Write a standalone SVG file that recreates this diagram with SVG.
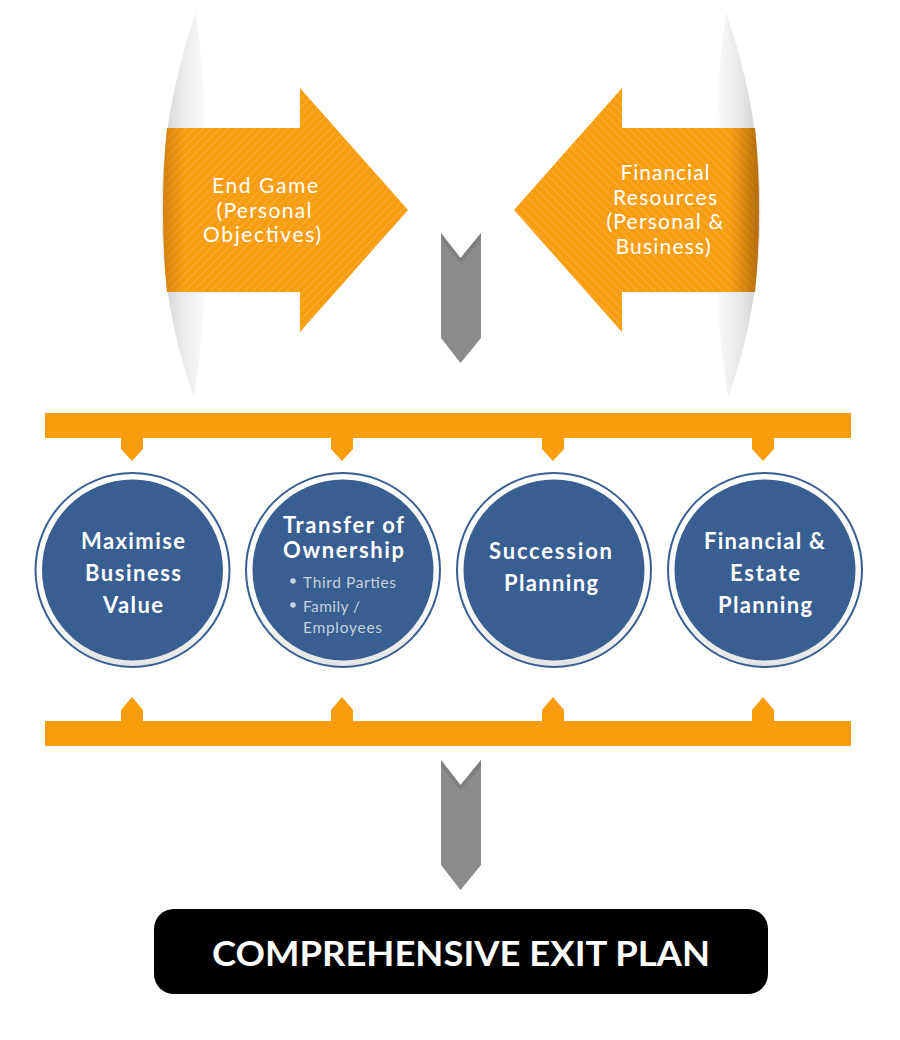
<svg xmlns="http://www.w3.org/2000/svg" width="900" height="1040" viewBox="0 0 900 1040">
<defs>
<style>
.bar{fill:#F99C0E}
.arrowtxt{font-family:Lato,"Liberation Sans",sans-serif;font-weight:400;font-size:21px;fill:#FFFFFF;text-anchor:middle}
.ctxt{font-family:Lato,"Liberation Sans",sans-serif;font-weight:700;font-size:22px;fill:#FFFFFF;text-anchor:middle}
.btxt{font-family:Lato,"Liberation Sans",sans-serif;font-weight:400;font-size:15.5px;fill:#C9D1DE}
.ring{fill:url(#ringGrad);stroke:#3A5E94;stroke-width:2}
.disc{fill:#385E92}
.grey{fill:#8B8B8B}
.notch{fill:#767676;opacity:0.55}
</style>
<pattern id="stripeL" width="6" height="6" patternUnits="userSpaceOnUse" patternTransform="rotate(-45)">
<rect width="6" height="1.2" fill="#FFFFFF" opacity="0.16"/>
</pattern>
<pattern id="stripeR" width="6" height="6" patternUnits="userSpaceOnUse" patternTransform="rotate(45)">
<rect width="6" height="1.2" fill="#FFFFFF" opacity="0.16"/>
</pattern>
<linearGradient id="lensL" gradientUnits="userSpaceOnUse" x1="160" y1="0" x2="210" y2="0">
<stop offset="0" stop-color="#F8F8F8"/>
<stop offset="0.1" stop-color="#D6D6D6"/>
<stop offset="0.4" stop-color="#E8E8E8"/>
<stop offset="1" stop-color="#FFFFFF"/>
</linearGradient>
<linearGradient id="lensR" gradientUnits="userSpaceOnUse" x1="762" y1="0" x2="712" y2="0">
<stop offset="0" stop-color="#F8F8F8"/>
<stop offset="0.1" stop-color="#D2D2D2"/>
<stop offset="0.4" stop-color="#E6E6E6"/>
<stop offset="1" stop-color="#FFFFFF"/>
</linearGradient>
<linearGradient id="shadeL" gradientUnits="userSpaceOnUse" x1="160" y1="0" x2="185" y2="0">
<stop offset="0" stop-color="#9A5500" stop-opacity="0.45"/>
<stop offset="1" stop-color="#9A5500" stop-opacity="0"/>
</linearGradient>
<linearGradient id="shadeR" gradientUnits="userSpaceOnUse" x1="762" y1="0" x2="730" y2="0">
<stop offset="0" stop-color="#7A4200" stop-opacity="0.6"/>
<stop offset="1" stop-color="#7A4200" stop-opacity="0"/>
</linearGradient>
<linearGradient id="ringGrad" x1="0" y1="0" x2="0" y2="1">
<stop offset="0" stop-color="#FFFFFF"/>
<stop offset="0.7" stop-color="#FAFAFA"/>
<stop offset="1" stop-color="#E4E4E4"/>
</linearGradient>
<clipPath id="clipL"><path d="M167,128 L300,128 L300,88 L408,210 L300,332 L300,292 L167,292 Q159,210 167,128 Z"/></clipPath>
<clipPath id="clipR"><path d="M755,128 L622,128 L622,88 L514,210 L622,332 L622,292 L755,292 Q763,210 755,128 Z"/></clipPath>
</defs>

<rect width="900" height="1040" fill="#FFFFFF"/>

<g id="lens-left">
<path d="M196,12 Q128,210 194,398 Q222,210 196,12 Z" fill="url(#lensL)"/>
</g>
<g id="lens-right">
<path d="M726,12 Q794,210 728,398 Q700,210 726,12 Z" fill="url(#lensR)"/>
</g>

<g id="node-end-game">
<path d="M167,128 L300,128 L300,88 L408,210 L300,332 L300,292 L167,292 Q159,210 167,128 Z" fill="#F89C10"/>
<path d="M167,128 L300,128 L300,88 L408,210 L300,332 L300,292 L167,292 Q159,210 167,128 Z" fill="url(#stripeL)"/>
<rect x="155" y="80" width="40" height="260" fill="url(#shadeL)" clip-path="url(#clipL)"/>
<text class="arrowtxt" x="265" y="193" textLength="106" lengthAdjust="spacing">End Game</text>
<text class="arrowtxt" x="264" y="218" textLength="95" lengthAdjust="spacing">(Personal</text>
<text class="arrowtxt" x="262" y="242" textLength="118" lengthAdjust="spacing">Objectives)</text>
</g>

<g id="node-financial-resources">
<path d="M755,128 L622,128 L622,88 L514,210 L622,332 L622,292 L755,292 Q763,210 755,128 Z" fill="#F89C10"/>
<path d="M755,128 L622,128 L622,88 L514,210 L622,332 L622,292 L755,292 Q763,210 755,128 Z" fill="url(#stripeR)"/>
<rect x="725" y="80" width="45" height="260" fill="url(#shadeR)" clip-path="url(#clipR)"/>
<text class="arrowtxt" x="665" y="180" textLength="89" lengthAdjust="spacing">Financial</text>
<text class="arrowtxt" x="665" y="205" textLength="104" lengthAdjust="spacing">Resources</text>
<text class="arrowtxt" x="665" y="229" textLength="117" lengthAdjust="spacing">(Personal &amp;</text>
<text class="arrowtxt" x="663" y="254" textLength="95" lengthAdjust="spacing">Business)</text>
</g>

<g id="connectors">
<polygon class="grey" points="441,233 460.5,258 481,233 481,338 460.5,363 441,338"/>
<polygon class="notch" points="441,233 460.5,258 481,233 481,239 460.5,264 441,239"/>
<rect class="bar" x="45" y="413" width="806" height="25"/>
<polygon class="bar" points="121,437 143,437 143,449 132,461 121,449"/>
<polygon class="bar" points="331,437 353,437 353,449 342,461 331,449"/>
<polygon class="bar" points="542,437 564,437 564,449 553,461 542,449"/>
<polygon class="bar" points="752,437 774,437 774,449 763,461 752,449"/>
<rect class="bar" x="45" y="721" width="806" height="25"/>
<polygon class="bar" points="121,722 143,722 143,710 132,697 121,710"/>
<polygon class="bar" points="331,722 353,722 353,710 342,697 331,710"/>
<polygon class="bar" points="542,722 564,722 564,710 553,697 542,710"/>
<polygon class="bar" points="752,722 774,722 774,710 763,697 752,710"/>
<polygon class="grey" points="441,760 460.5,785 481,760 481,865 460.5,890 441,865"/>
<polygon class="notch" points="441,760 460.5,785 481,760 481,766 460.5,791 441,766"/>
</g>

<g id="node-maximise">
<circle class="ring" cx="132.5" cy="570" r="97"/>
<circle class="disc" cx="132.5" cy="570" r="90.5"/>
<text class="ctxt" x="133" y="549" textLength="104" lengthAdjust="spacing">Maximise</text>
<text class="ctxt" x="133" y="581" textLength="96" lengthAdjust="spacing">Business</text>
<text class="ctxt" x="133" y="613" textLength="60" lengthAdjust="spacing">Value</text>
</g>

<g id="node-transfer">
<circle class="ring" cx="343" cy="570" r="97"/>
<circle class="disc" cx="343" cy="570" r="90.5"/>
<text class="ctxt" x="343.5" y="533" textLength="121" lengthAdjust="spacing">Transfer of</text>
<text class="ctxt" x="343.5" y="558" textLength="121" lengthAdjust="spacing">Ownership</text>
<circle cx="293" cy="581" r="2.8" fill="#C9D1DE"/>
<text class="btxt" x="303" y="588" textLength="93" lengthAdjust="spacing">Third Parties</text>
<circle cx="293" cy="605" r="2.8" fill="#C9D1DE"/>
<text class="btxt" x="303" y="612" textLength="57" lengthAdjust="spacing">Family /</text>
<text class="btxt" x="303" y="633" textLength="79" lengthAdjust="spacing">Employees</text>
</g>

<g id="node-succession">
<circle class="ring" cx="554" cy="570" r="97"/>
<circle class="disc" cx="554" cy="570" r="90.5"/>
<text class="ctxt" x="550.5" y="559" textLength="123" lengthAdjust="spacing">Succession</text>
<text class="ctxt" x="551" y="591" textLength="94" lengthAdjust="spacing">Planning</text>
</g>

<g id="node-financial-estate">
<circle class="ring" cx="765" cy="570" r="97"/>
<circle class="disc" cx="765" cy="570" r="90.5"/>
<text class="ctxt" x="764.5" y="549" textLength="121" lengthAdjust="spacing">Financial &amp;</text>
<text class="ctxt" x="765" y="581" textLength="70" lengthAdjust="spacing">Estate</text>
<text class="ctxt" x="765" y="613" textLength="94" lengthAdjust="spacing">Planning</text>
</g>

<g id="node-exit-plan">
<rect x="154" y="909" width="614" height="85" rx="20" ry="20" fill="#000000"/>
<text x="461" y="966" font-family="Lato,'Liberation Sans',sans-serif" font-weight="700" font-size="34" fill="#FFFFFF" text-anchor="middle" textLength="498" lengthAdjust="spacingAndGlyphs">COMPREHENSIVE EXIT PLAN</text>
</g>
</svg>
